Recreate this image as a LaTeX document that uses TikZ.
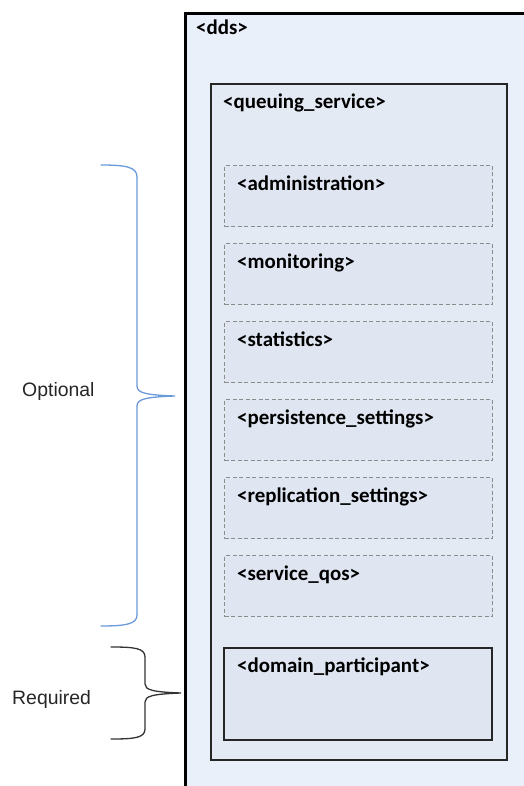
\documentclass[tikz,border=0pt]{standalone}
\usepackage{fontspec}
\usepackage{xcolor}
\usepackage{tikz}
\usetikzlibrary{calc}
\newfontfamily\boxfont{Carlito}
\newfontfamily\sidefont{Liberation Sans}
\definecolor{ddsfill}{HTML}{EAF0F9}
\definecolor{qsfill}{HTML}{E4EAF4}
\definecolor{optfill}{HTML}{DFE6F1}
\definecolor{dashgray}{HTML}{8C8C8C}
\definecolor{braceblue}{HTML}{6A9AD8}
\definecolor{sidegray}{HTML}{262626}
\tikzset{
  frame/.style={rectangle, inner sep=0pt, anchor=north west},
  ddsbox/.style={frame, draw=black, line width=3bp, fill=ddsfill},
  qsbox/.style={frame, draw=black!85, line width=2bp, fill=qsfill},
  optbox/.style={frame, draw=dashgray, dash pattern=on 4bp off 2.5bp, line width=1bp,
    fill=optfill, minimum width=268bp, minimum height=61bp},
  reqbox/.style={frame, draw=black!85, line width=2bp, fill=optfill,
    minimum width=268bp, minimum height=92bp},
  boxlab/.style={anchor=base west, inner sep=0pt, font=\boxfont\bfseries\fontsize{21}{25}\selectfont},
  sidelab/.style={anchor=base west, inner sep=0pt, text=sidegray, font=\sidefont\fontsize{19.5}{22}\selectfont},
  optbrace/.style={draw=braceblue, line width=1.3bp, line cap=round},
  reqbrace/.style={draw=black!80, line width=1.3bp, line cap=round},
}

\begin{document}
\begin{tikzpicture}[x=1bp, y=-1bp]
  \clip (0,0) rectangle (524,786);
  % outer frames
  \node[ddsbox, minimum width=360bp, minimum height=800bp] (dds) at (184,12) {};
  \node[boxlab] at ($(dds.north west)+(12,23)$) {<dds>};
  \node[qsbox, minimum width=296bp, minimum height=676bp] (qs) at (210,83) {};
  \node[boxlab] at ($(qs.north west)+(13,25)$) {<queuing\_service>};
  % optional sections
  \foreach \name/\txt [count=\i from 0] in {adm/administration, mon/monitoring,
      stat/statistics, pers/persistence\_settings, repl/replication\_settings,
      qos/service\_qos}{
    \node[optbox] (\name) at (224,{165+78*\i}) {};
    \node[boxlab] at ($(\name.north west)+(13,25)$) {<\txt>};
  }
  % required section
  \node[reqbox] (dp) at (223,647) {};
  \node[boxlab] at ($(dp.north west)+(14,25)$) {<domain\_participant>};
  % braces
  \coordinate (optTip) at (175,396);
  \coordinate (reqTip) at (181,693);
  \draw[optbrace] (101,165) .. controls (126,165) and (137,167) .. (137,177)
    -- (137,386) .. controls (137,393) and (146,395) .. (optTip)
    .. controls (146,397) and (137,399) .. (137,406)
    -- (137,615) .. controls (137,624) and (126,626) .. (101,626);
  \draw[reqbrace] (111,647) .. controls (134,647) and (145,648) .. (145,657)
    -- (145,684) .. controls (145,690) and (153,692) .. (reqTip)
    .. controls (153,694) and (145,696) .. (145,702)
    -- (145,729) .. controls (145,738) and (134,739) .. (111,739);
  \node[sidelab] (opt) at (22,396) {Optional};
  \node[sidelab] (req) at (12,704) {Required};
\end{tikzpicture}
\end{document}
